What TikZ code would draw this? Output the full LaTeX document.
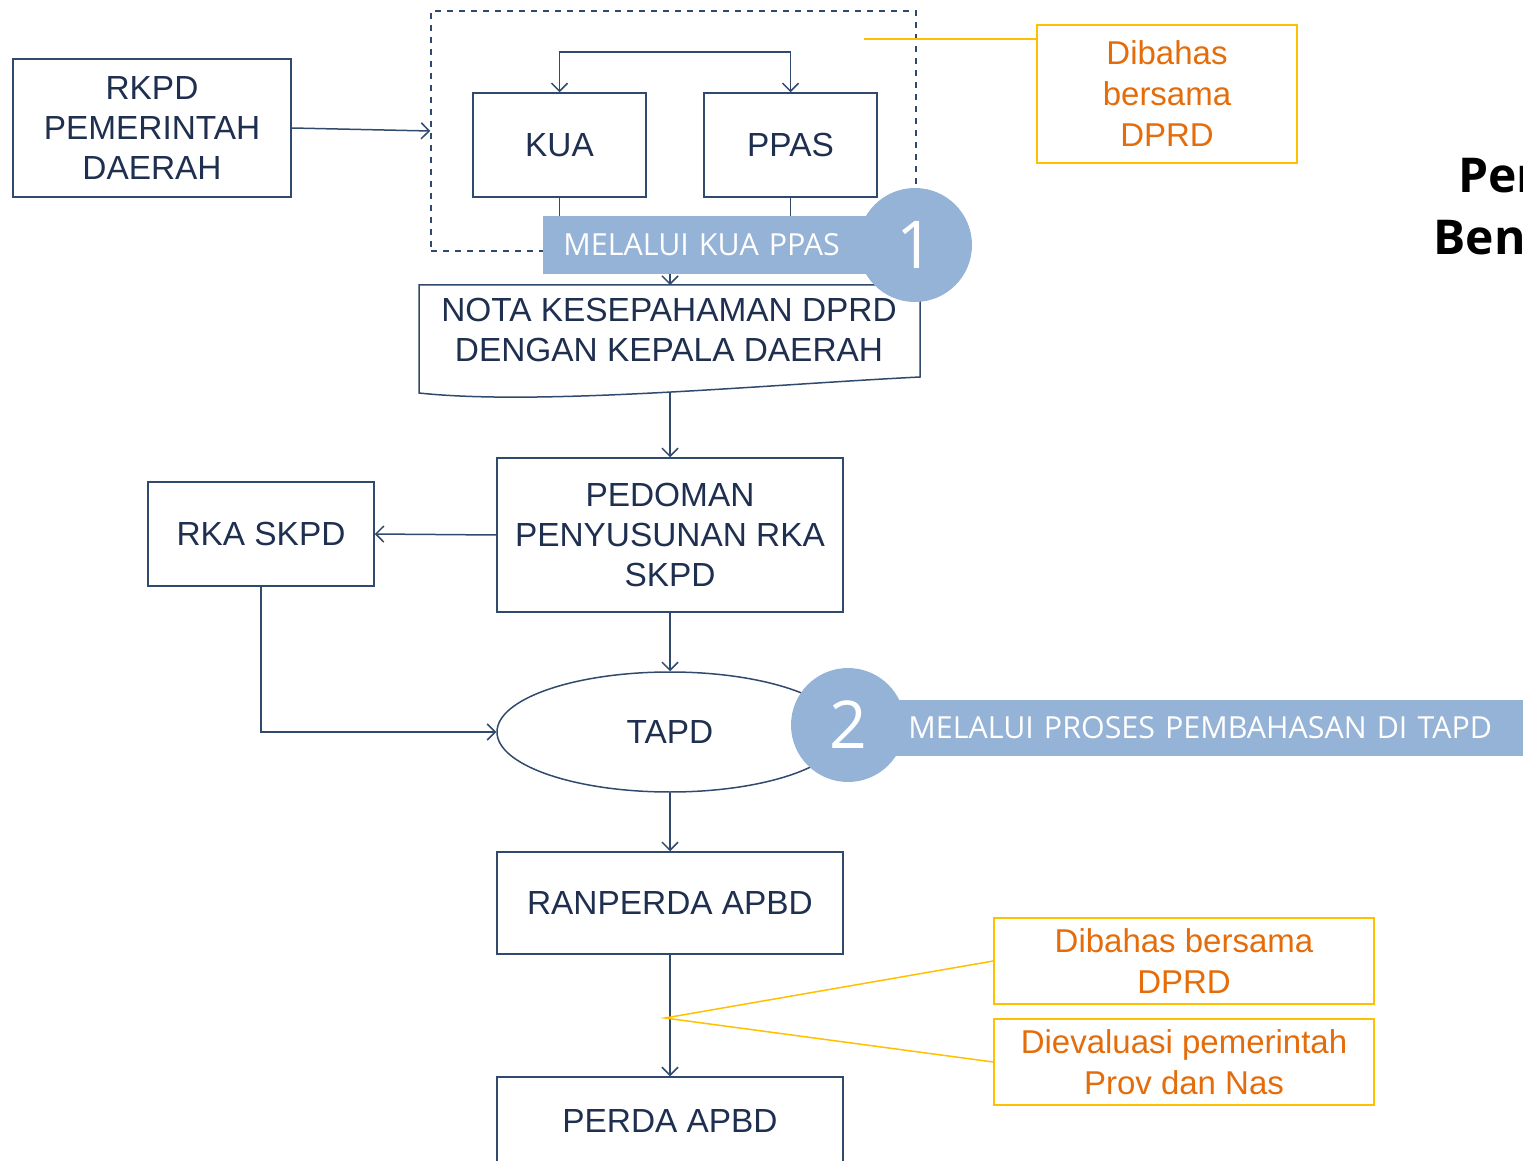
\documentclass[tikz,border=0pt]{standalone}
\usepackage{fontspec}
\setmainfont{Liberation Sans}
\newfontfamily\bannerfont{Open Sans}
\usetikzlibrary{shapes.geometric,arrows.meta}

\definecolor{navy}{HTML}{2F4A6D}
\definecolor{boxtext}{HTML}{1F2F4F}
\definecolor{callblue}{HTML}{95B3D7}
\definecolor{notecol}{HTML}{E46C0A}
\definecolor{noteline}{HTML}{FFC000}

\tikzset{
  flowbox/.style={draw=navy, line width=0.75pt, text=boxtext, align=center, inner sep=0pt,
    font=\fontsize{16.7}{20}\selectfont},
  notebox/.style={draw=noteline, line width=0.75pt, text=notecol, align=center, inner sep=0pt,
    font=\fontsize{16.5}{20.5}\selectfont},
  banner/.style={fill=callblue, text=white, align=left, inner ysep=0pt,
    font=\bannerfont\fontsize{15.2}{18}\selectfont},
  stepnum/.style={circle, fill=callblue, text=white, minimum size=57pt, inner sep=0pt,
    font=\bannerfont\fontsize{33}{33}\selectfont},
  link/.style={draw=navy, line width=0.75pt},
  notelink/.style={draw=noteline, line width=0.75pt},
}

\begin{document}
\begin{tikzpicture}[x=0.5pt, y=-0.5pt, >={Straight Barb[length=4pt,width=8pt]}]

\useasboundingbox (0,0) rectangle (1523,1161);
\clip (0,0) rectangle (1523,1161);

%%%%%%%%%%%%%%%%%%%%%%%%%%%%%%%%%%%%%%%%%%%%%%%%%%%%%%%%%%%%%%%%%%%%%%%%%%%%%%%%%%%
\node (rkpd) at (152,128) [flowbox, minimum width=139pt, minimum height=69pt] {RKPD\\PEMERINTAH\\DAERAH};
\node (kuappas) at (673.5,131) [draw=navy, dashed, line width=0.75pt, minimum width=242.5pt, minimum height=120pt, inner sep=0pt] {};
\node (kua) at (559.5,145) [flowbox, minimum width=86.5pt, minimum height=52pt] {KUA};
\node (ppas) at (790.5,145) [flowbox, minimum width=86.5pt, minimum height=52pt] {PPAS};

\coordinate (fork) at (675,52);
\coordinate (join) at (670,262);

\draw [link, ->] (rkpd.east) to (kuappas.west);
\draw [link, ->] (fork) -| (kua.north);
\draw [link, ->] (fork) -| (ppas.north);
\draw [link] (kua.south) |- (join);
\draw [link] (ppas.south) |- (join);

%%%%%%%%%%%%%%%%%%%%%%%%%%%%%%%%%%%%%%%%%%%%%%%%%%%%%%%%%%%%%%%%%%%%%%%%%%%%%%%%%%%
\coordinate (notatop) at (670,285);
\coordinate (notabot) at (670,392);
\draw [link, fill=white] (419,285) -- (920,285) -- (920,377)
  .. controls (760,385) and (540,406) .. (419,393) -- cycle;
\node (nota) at (669,330) [text=boxtext, align=center, inner sep=0pt, font=\fontsize{16.7}{20}\selectfont]
  {NOTA KESEPAHAMAN DPRD\\DENGAN KEPALA DAERAH};
\draw [link, ->] (join) to (notatop);

\node (pedoman) at (670,535) [flowbox, minimum width=173pt, minimum height=77pt] {PEDOMAN\\PENYUSUNAN RKA\\SKPD};
\node (rka) at (261,534) [flowbox, minimum width=113pt, minimum height=52pt] {RKA SKPD};
\node (tapd) at (670,732) [flowbox, ellipse, minimum width=173pt, minimum height=60pt] {TAPD};
\node (ranperda) at (670,903) [flowbox, minimum width=173pt, minimum height=51pt] {RANPERDA APBD};
\node (perda) at (670,1121) [flowbox, minimum width=173pt, minimum height=44pt] {PERDA APBD};

\draw [link, ->] (notabot) to (pedoman.north);
\draw [link, ->] (pedoman.west) to (rka.east);
\draw [link, ->] (pedoman.south) to (tapd.north);
\draw [link, ->] (rka.south) |- (tapd.west);
\draw [link, ->] (tapd.south) to (ranperda.north);
\draw [link, ->] (ranperda.south) to (perda.north);

%%%%%%%%%%%%%%%%%%%%%%%%%%%%%%%%%%%%%%%%%%%%%%%%%%%%%%%%%%%%%%%%%%%%%%%%%%%%%%%%%%%
\node (dibahasA) at (1167,94) [notebox, minimum width=130pt, minimum height=69pt] {Dibahas\\bersama\\DPRD};
\node (dibahasB) at (1184,961) [notebox, minimum width=190pt, minimum height=43pt] {Dibahas bersama\\DPRD};
\node (dievaluasi) at (1184,1062) [notebox, minimum width=190pt, minimum height=43pt] {Dievaluasi pemerintah\\Prov dan Nas};

\coordinate (tagA) at (864,39);
\coordinate (split) at (665,1018);
\draw [notelink] (tagA) to (dibahasA.west |- tagA);
\draw [notelink] (dibahasB.west) -- (split) -- (dievaluasi.west);

%%%%%%%%%%%%%%%%%%%%%%%%%%%%%%%%%%%%%%%%%%%%%%%%%%%%%%%%%%%%%%%%%%%%%%%%%%%%%%%%%%%
\node (step1) at (543,245) [banner, anchor=west, text width=158.5pt, inner xsep=10pt, minimum height=29pt] {MELALUI KUA PPAS};
\node (num1) at (915,245) [stepnum] {1};
\node (step2) at (850,728) [banner, anchor=west, text width=300pt, inner xsep=29pt, minimum height=28pt] {MELALUI PROSES PEMBAHASAN DI TAPD};
\node (num2) at (848,725) [stepnum] {2};

\node (titleA) at (1458,192) [anchor=base west, inner sep=0pt, font=\bannerfont\bfseries\fontsize{24}{24}\selectfont] {Per};
\node (titleB) at (1433,255) [anchor=base west, inner sep=0pt, font=\bannerfont\bfseries\fontsize{24}{24}\selectfont] {Ben};

\end{tikzpicture}
\end{document}
